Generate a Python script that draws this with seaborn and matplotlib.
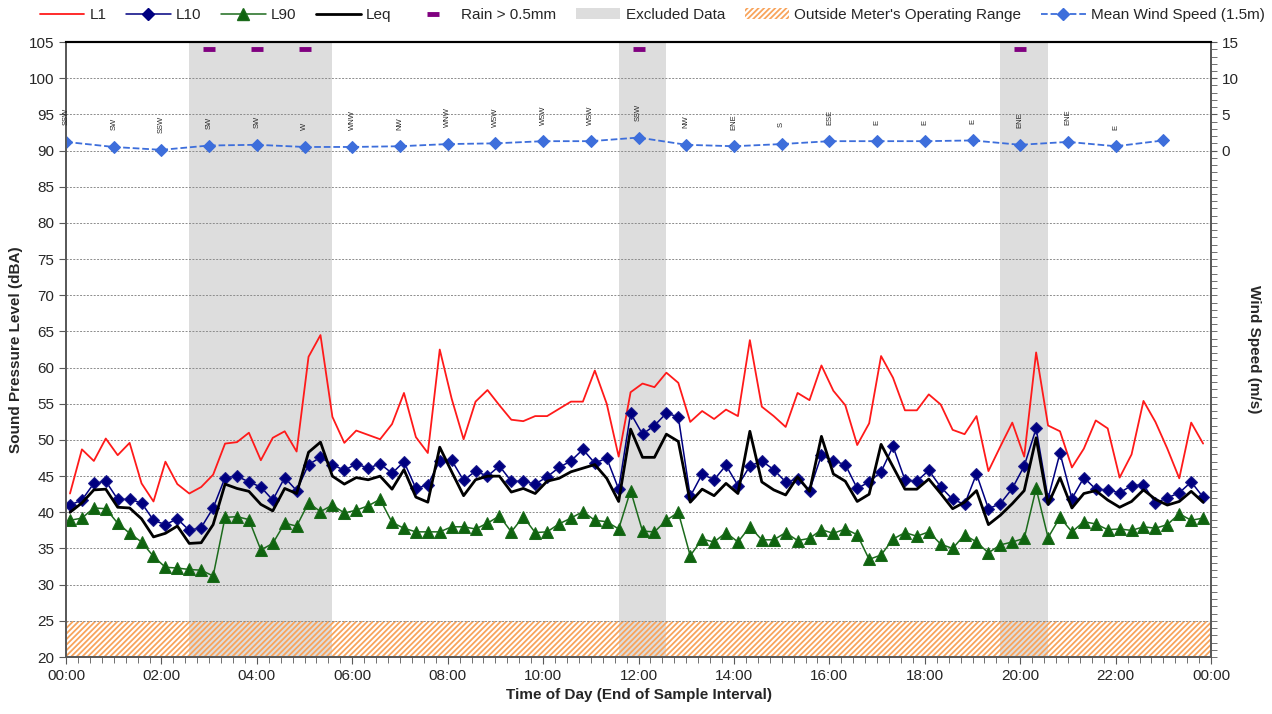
import numpy as np
import pandas as pd
import matplotlib
matplotlib.use('Agg')
import matplotlib.pyplot as plt
import seaborn as sns
from matplotlib.lines import Line2D
from matplotlib.patches import Patch
from matplotlib.ticker import MultipleLocator, FuncFormatter

# 15 minute samples, end of interval (first one ends at 00:05)
sample_minutes = [5 + 15 * i for i in range(96)]

l1 = [42.6, 48.7, 47.1, 50.2, 47.9, 49.6, 44.0, 41.5, 47.0, 43.9, 42.6, 43.5,
      45.2, 49.5, 49.7, 51.0, 47.2, 50.3, 51.2, 48.4, 61.5, 64.5, 53.2, 49.6,
      51.3, 50.7, 50.1, 52.2, 56.5, 50.4, 48.2, 62.5, 55.7, 50.1, 55.3, 56.9,
      54.8, 52.8, 52.6, 53.3, 53.3, 54.3, 55.3, 55.3, 59.6, 55.0, 47.7, 56.6,
      57.8, 57.3, 59.3, 57.9, 52.5, 54.0, 52.9, 54.2, 53.3, 63.8, 54.6, 53.3,
      51.8, 56.5, 55.5, 60.3, 56.8, 54.8, 49.3, 52.3, 61.6, 58.6, 54.1, 54.1,
      56.3, 54.9, 51.4, 50.8, 53.3, 45.7, 49.1, 52.4, 47.7, 62.1, 52.0, 51.2,
      46.2, 48.8, 52.7, 51.6, 44.8, 48.0, 55.4, 52.5, 48.8, 44.7, 52.4, 49.5]

l10 = [41.0, 41.7, 44.0, 44.3, 41.8, 41.8, 41.3, 38.9, 38.3, 39.1, 37.5, 37.9,
       40.6, 44.8, 45.0, 44.2, 43.5, 41.7, 44.8, 43.0, 46.6, 47.6, 46.6, 45.8,
       46.7, 46.1, 46.7, 45.4, 47.0, 43.3, 43.8, 47.1, 47.2, 44.4, 45.7, 45.0,
       46.4, 44.3, 44.3, 43.9, 44.9, 46.2, 47.1, 48.7, 46.8, 47.5, 43.2, 53.7,
       50.8, 52.0, 53.7, 53.2, 42.2, 45.3, 44.5, 46.5, 43.7, 46.4, 47.1, 45.9,
       44.2, 44.6, 43.0, 47.9, 47.1, 46.6, 43.3, 44.2, 45.6, 49.1, 44.5, 44.3,
       45.8, 43.5, 41.8, 41.1, 45.3, 40.5, 41.2, 43.3, 46.4, 51.6, 41.9, 48.2,
       41.9, 44.8, 43.2, 43.1, 42.7, 43.7, 43.8, 41.3, 42.0, 42.7, 44.2, 42.1]

l90 = [38.9, 39.2, 40.6, 40.5, 38.5, 37.1, 35.9, 33.9, 32.4, 32.3, 32.1, 32.0,
       31.2, 39.3, 39.4, 39.0, 34.8, 35.7, 38.5, 38.1, 41.3, 40.1, 41.0, 39.9,
       40.3, 40.9, 41.8, 38.6, 37.8, 37.3, 37.3, 37.3, 38.0, 38.0, 37.7, 38.5,
       39.5, 37.3, 39.4, 37.2, 37.3, 38.4, 39.2, 40.1, 38.9, 38.7, 37.7, 43.0,
       37.4, 37.3, 38.9, 40.0, 34.0, 36.3, 35.9, 37.2, 35.9, 38.0, 36.2, 36.2,
       37.2, 36.1, 36.4, 37.6, 37.1, 37.7, 36.9, 33.5, 34.1, 36.3, 37.2, 36.7,
       37.3, 35.6, 35.0, 36.9, 35.9, 34.4, 35.5, 35.9, 36.4, 43.3, 36.5, 39.3,
       37.3, 38.7, 38.4, 37.6, 37.7, 37.5, 38.0, 37.8, 38.3, 39.8, 38.9, 39.2]

leq = [40.0, 41.3, 43.1, 43.2, 40.7, 40.6, 39.1, 36.6, 37.1, 38.1, 35.7, 35.8,
       38.3, 43.9, 43.3, 42.9, 41.1, 40.2, 43.3, 42.6, 48.3, 49.7, 45.0, 43.9,
       44.8, 44.5, 45.0, 43.2, 45.9, 42.1, 41.4, 49.0, 45.6, 42.3, 44.5, 45.0,
       45.0, 42.8, 43.3, 42.6, 44.3, 44.7, 45.6, 46.1, 46.6, 44.7, 41.5, 51.5,
       47.6, 47.6, 50.8, 49.8, 41.4, 43.2, 42.3, 44.0, 42.6, 51.2, 44.2, 43.1,
       42.4, 44.9, 42.9, 50.5, 45.3, 44.3, 41.5, 42.5, 49.4, 46.3, 43.2, 43.2,
       44.6, 42.6, 40.5, 41.4, 43.0, 38.3, 39.6, 41.2, 43.0, 50.3, 41.1, 44.8,
       40.6, 42.6, 43.0, 41.7, 40.7, 41.5, 43.1, 41.8, 41.0, 41.5, 42.9, 41.4]

# hourly wind
wind_hours = list(range(24))
wind_speed = [1.2, 0.5, 0.1, 0.7, 0.8, 0.5, 0.5, 0.6, 0.9, 1.0, 1.3, 1.3,
              1.8, 0.8, 0.6, 0.9, 1.3, 1.3, 1.3, 1.4, 0.8, 1.2, 0.6, 1.4]
wind_dir = ['SSW', 'SW', 'SSW', 'SW', 'SW', 'W', 'WNW', 'NW', 'WNW', 'WSW', 'WSW', 'WSW',
            'SSW', 'NW', 'ENE', 'S', 'ESE', 'E', 'E', 'E', 'ENE', 'ENE', 'E', '']

rain_hours = [3, 4, 5, 12, 20]
rain_level = [104, 104, 104, 104, 104]

# excluded periods (hours)
excluded = [(155 / 60, 335 / 60), (695 / 60, 755 / 60), (1175 / 60, 1235 / 60)]
meter_floor = (20, 25)

df = pd.DataFrame({'hora': np.array(sample_minutes) / 60, 'L1': l1, 'L10': l10,
                   'L90': l90, 'Leq': leq})

sns.set_style('ticks')
plt.rcParams['font.family'] = ['Liberation Sans', 'DejaVu Sans']
plt.rcParams['hatch.linewidth'] = 1.3

fig = plt.figure(figsize=(12.72, 7.14), dpi=100)
ax = fig.add_axes([0.0519, 0.0798, 0.9002, 0.8613])

for ini, fim in excluded:
    ax.axvspan(ini, fim, color='#DDDDDD', lw=0, zorder=0)
ax.axhspan(*meter_floor, facecolor='none', edgecolor='#F8A45C', hatch='//////', lw=0, zorder=0.5)

for v in range(25, 105, 5):
    ax.axhline(v, color='#8C8C8C', lw=0.7, ls=(0, (2, 1.5)), zorder=0.6)

sns.lineplot(data=df, x='hora', y='L1', color='#FF1A1A', lw=1.3, ax=ax, zorder=3)
sns.lineplot(data=df, x='hora', y='L10', color='#000080', lw=1.1, marker='D', markersize=6,
             markeredgecolor='#1A1A8C', ax=ax, zorder=4)
sns.lineplot(data=df, x='hora', y='L90', color='#1C6B1C', lw=1.1, marker='^', markersize=8,
             markeredgecolor='#1C6B1C', markerfacecolor='#0F640F', ax=ax, zorder=4)
sns.lineplot(data=df, x='hora', y='Leq', color='black', lw=2.0, ax=ax, zorder=5)
sns.scatterplot(x=rain_hours, y=rain_level, marker='_', s=70, linewidth=3.5,
                color='#800080', ax=ax, zorder=6)

ax.set_xlim(0, 24)
ax.set_ylim(20, 105)
ax.xaxis.set_major_locator(MultipleLocator(2))
ax.xaxis.set_minor_locator(MultipleLocator(0.25))
ax.xaxis.set_major_formatter(FuncFormatter(lambda v, p: f'{int(round(v)) % 24:02d}:00'))
ax.yaxis.set_major_locator(MultipleLocator(5))
ax.tick_params(axis='both', which='major', labelsize=11, length=5, color='#595959', direction='out')
ax.tick_params(axis='x', which='minor', length=4, color='#595959', direction='out')
ax.set_xlabel('Time of Day (End of Sample Interval)', fontsize=11, fontweight='bold')
ax.set_ylabel('Sound Pressure Level (dBA)', fontsize=11, fontweight='bold')

ax2 = ax.twinx()
sns.lineplot(x=wind_hours, y=wind_speed, color='#3D6EDB', lw=1.3, ls='--', marker='D',
             markersize=6, markeredgecolor='#3D6EDB', ax=ax2)
for h, w, d in zip(wind_hours, wind_speed, wind_dir):
    ax2.text(h, w + 2.3, d, rotation=90, ha='center', va='bottom', fontsize=5.5)
ax2.set_ylim(-70, 15)
ax2.set_yticks([0, 5, 10, 15])
ax2.yaxis.set_minor_locator(MultipleLocator(1))
ax2.tick_params(axis='y', which='major', labelsize=11, length=4, color='#595959')
ax2.tick_params(axis='y', which='minor', length=4, color='#595959')
ax2.set_ylabel('Wind Speed (m/s)', fontsize=11, fontweight='bold', rotation=270, labelpad=16)

for a in (ax, ax2):
    for lado in ('left', 'right', 'bottom'):
        a.spines[lado].set_color('#595959')
        a.spines[lado].set_linewidth(1.3)
    a.spines['top'].set_color('black')
    a.spines['top'].set_linewidth(1.5)

handles = [
    Line2D([], [], color='#FF1A1A', lw=1.3),
    Line2D([], [], color='#000080', lw=1.1, marker='D', markersize=6),
    Line2D([], [], color='#1C6B1C', lw=1.1, marker='^', markersize=8, markerfacecolor='#0F640F'),
    Line2D([], [], color='black', lw=2.0),
    Line2D([], [], color='#800080', marker='_', ls='', markersize=8, markeredgewidth=3.5),
    Patch(facecolor='#DDDDDD', lw=0),
    Patch(facecolor='white', edgecolor='#F8A45C', hatch='//////', lw=0),
    Line2D([], [], color='#3D6EDB', lw=1.3, ls='--', marker='D', markersize=6),
]
labels = ['L1', 'L10', 'L90', 'Leq', 'Rain > 0.5mm', 'Excluded Data',
          "Outside Meter's Operating Range", 'Mean Wind Speed (1.5m)']
fig.legend(handles, labels, loc='upper left', bbox_to_anchor=(0.0204, 1.008), ncol=8,
           frameon=False, fontsize=11, handlelength=2.9, columnspacing=1.3, handletextpad=0.35)

fig.savefig('out.png', dpi=100)
